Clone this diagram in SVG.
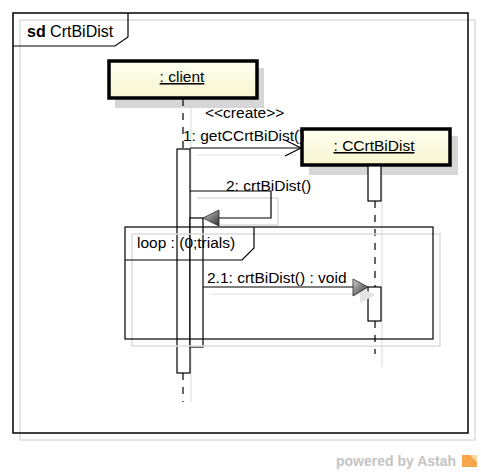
<svg xmlns="http://www.w3.org/2000/svg" width="481" height="473" viewBox="0 0 481 473">
<style>
text{font-family:"Liberation Sans",Arial,sans-serif;font-size:15.5px;fill:#000}
.sh{fill:none;stroke:#dcdcdc;stroke-width:1.5}
.ln{fill:none;stroke:#000;stroke-width:1.2}
.ll{stroke:#000;stroke-width:1.2;stroke-dasharray:7 7}
.lls{stroke:#e0e0e0;stroke-width:1.2}
.act{fill:#fff;stroke:#000;stroke-width:1.2}
.box{fill:url(#yel);stroke:#000;stroke-width:3.5}
.boxsh{fill:#d6d6d6}
</style>
<defs>
<linearGradient id="yel" x1="0" y1="0" x2="0" y2="1">
<stop offset="0" stop-color="#fffff2"/>
<stop offset="1" stop-color="#f7f5cf"/>
</linearGradient>
<linearGradient id="tri" x1="0" y1="0" x2="1" y2="1">
<stop offset="0" stop-color="#d0d0d0"/>
<stop offset="1" stop-color="#303030"/>
</linearGradient>
</defs>
<rect width="481" height="473" fill="#fff"/>

<g id="frame">
<rect class="sh" x="20" y="20" width="455" height="420"/>
<rect x="13" y="13" width="455" height="420" fill="none" stroke="#000" stroke-width="1.5"/>
<path d="M13,46 H115 L128,37 V13" fill="none" stroke="#000" stroke-width="1.2"/>
<text x="27" y="37" style="font-size:16px"><tspan font-weight="bold">sd</tspan> CrtBiDist</text>
</g>

<g id="client">
<rect class="boxsh" x="115" y="68" width="149" height="40"/>
<rect class="box" x="109" y="61" width="148" height="37"/>
<text x="182" y="82" text-anchor="middle" text-decoration="underline">: client</text>
<line class="lls" x1="191" y1="108" x2="191" y2="402"/>
<line class="ll" x1="183" y1="99" x2="183" y2="149"/>
<line class="ll" x1="183" y1="373" x2="183" y2="402"/>
<rect class="act" x="177" y="149" width="13" height="224"/>
<rect class="act" x="190" y="218" width="13" height="129"/>
</g>

<g id="ccrtbidist">
<rect class="boxsh" x="309" y="136" width="149" height="39"/>
<rect class="box" x="302" y="129" width="148" height="36"/>
<text x="374" y="151" text-anchor="middle" text-decoration="underline">: CCrtBiDist</text>
<line class="lls" x1="382" y1="175" x2="382" y2="367"/>
<line class="ll" x1="375" y1="201" x2="375" y2="287"/>
<line class="ll" x1="375" y1="321" x2="375" y2="354"/>
<rect class="act" x="368" y="166" width="13" height="35"/>
<rect class="act" x="368" y="287" width="13" height="34"/>
</g>

<g id="connectors">
<line class="lls" x1="197" y1="155" x2="296" y2="155"/>
<line class="ln" x1="190" y1="148" x2="301" y2="148"/>
<path class="ln" d="M285,140 L301,148 L285,156"/>
<text x="205" y="118">&lt;&lt;create&gt;&gt;</text>
<text x="183" y="141">1: getCCrtBiDist()</text>

<path class="sh" d="M197,198 H278 V225 H219"/>
<path class="ln" d="M190,191 H271 V218 H219"/>
<path d="M219,210 L203,218 L219,226 Z" fill="url(#tri)" stroke="#222" stroke-width="0.8"/>
<text x="226" y="191">2: crtBiDist()</text>

<line class="lls" x1="210" y1="294" x2="360" y2="294"/>
<path d="M360,287 L375,295 L360,303 Z" fill="#e4e4e4"/>
<line class="ln" x1="203" y1="287" x2="354" y2="287"/>
<path d="M353,279 L368,287 L353,296 Z" fill="url(#tri)" stroke="#222" stroke-width="0.8"/>
<text x="207" y="283">2.1: crtBiDist() : void</text>
</g>

<g id="loop">
<rect class="sh" x="132" y="234" width="308" height="112"/>
<rect x="125" y="227" width="308" height="112" fill="none" stroke="#000" stroke-width="1.2"/>
<path class="ln" d="M125,260 H242 L254,248 V227"/>
<text x="137" y="248">loop : (0;trials)</text>
</g>

<g id="watermark">
<text x="336" y="466" style="font-size:14px;font-weight:bold;fill:#c4c4c4">powered by Astah</text>
<rect x="462" y="455" width="15" height="12" fill="#f5a54a"/>
<path d="M470,455 H477 V462 Z" fill="#fbd7a8"/>
</g>
</svg>
